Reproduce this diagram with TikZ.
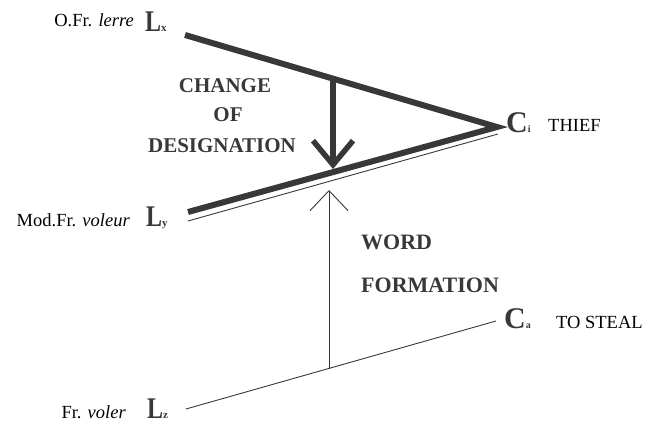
\documentclass[tikz,border=0pt]{standalone}
\usepackage{fontspec}
\setmainfont{Liberation Serif}
\usetikzlibrary{arrows.meta}
\definecolor{ink}{HTML}{383838}
\newcommand\BigL[1]{\scalebox{0.8}[1]{L}{\fontsize{11}{11}\selectfont #1}}
\newcommand\BigC[1]{C{\fontsize{10}{10}\selectfont #1}}
\begin{document}
\begin{tikzpicture}[x=1pt,y=-1pt,
  lab/.style={font=\fontsize{18.5}{18.5}\selectfont, inner sep=0pt},
  letter/.style={font=\fontsize{30}{30}\selectfont\bfseries, text=ink, inner sep=0pt, anchor=base west},
  title/.style={font=\fontsize{21}{21}\selectfont\bfseries, text=ink, inner sep=0pt, anchor=base},
  thickline/.style={line width=6pt, draw=ink, line join=miter},
  thinline/.style={line width=0.9pt, draw=ink},
]
\useasboundingbox (0,0) rectangle (646,425);
% labels
\node[lab, anchor=base east] (tx) at (134,27) {O.Fr. \textit{lerre}};
\node[letter] (Lx) at (145,32) {\BigL{x}};
\node[lab, anchor=base east] (ty) at (130,227) {Mod.Fr. \textit{voleur}};
\node[letter] (Ly) at (146,227) {\BigL{y}};
\node[lab, anchor=base east] (tz) at (126,418) {Fr. \textit{voler}};
\node[letter] (Lz) at (147,418) {\BigL{z}};
\node[letter] (C1) at (506,133) {\BigC{i}};
\node[lab, anchor=base west] (thief) at (548,132) {THIEF};
\node[letter] (C2) at (504,328) {\BigC{a}};
\node[lab, anchor=base west] (steal) at (556,328) {TO STEAL};
% titles
\node[title] (t1) at (225,93) {CHANGE};
\node[title] (t2) at (228,122) {OF};
\node[title] (t3) at (222,153) {DESIGNATION};
\node[title, font=\fontsize{22}{22}\selectfont\bfseries, anchor=base west] (w1) at (361,250) {WORD};
\node[title, font=\fontsize{22}{22}\selectfont\bfseries, anchor=base west] (w2) at (361,292) {FORMATION};
% line end points
\coordinate (ax) at (185,35);
\coordinate (cp) at (497,127);
\coordinate (ay) at (188,212);
\coordinate (ay2) at (188,221);
\coordinate (cp2) at (498,134);
\coordinate (az) at (186,409);
\coordinate (cq) at (496,321);
\coordinate (v1) at (333,79);
\coordinate (v2) at (333,169);
\coordinate (w0) at (329,369);
\coordinate (wt) at (329,190);
% lines
\draw[thickline] (ax) -- (cp) -- (ay);
\draw[thinline] (ay2) -- (cp2);
\draw[thinline] (az) -- (cq);
\draw[line width=5.5pt, draw=ink, -{Straight Barb[length=24pt,width=40pt,line width=5.5pt]}] (v1) -- (v2);
\draw[thinline, -{Straight Barb[length=20pt,width=38pt,line width=0.9pt]}] (w0) -- (wt);
\end{tikzpicture}
\end{document}
